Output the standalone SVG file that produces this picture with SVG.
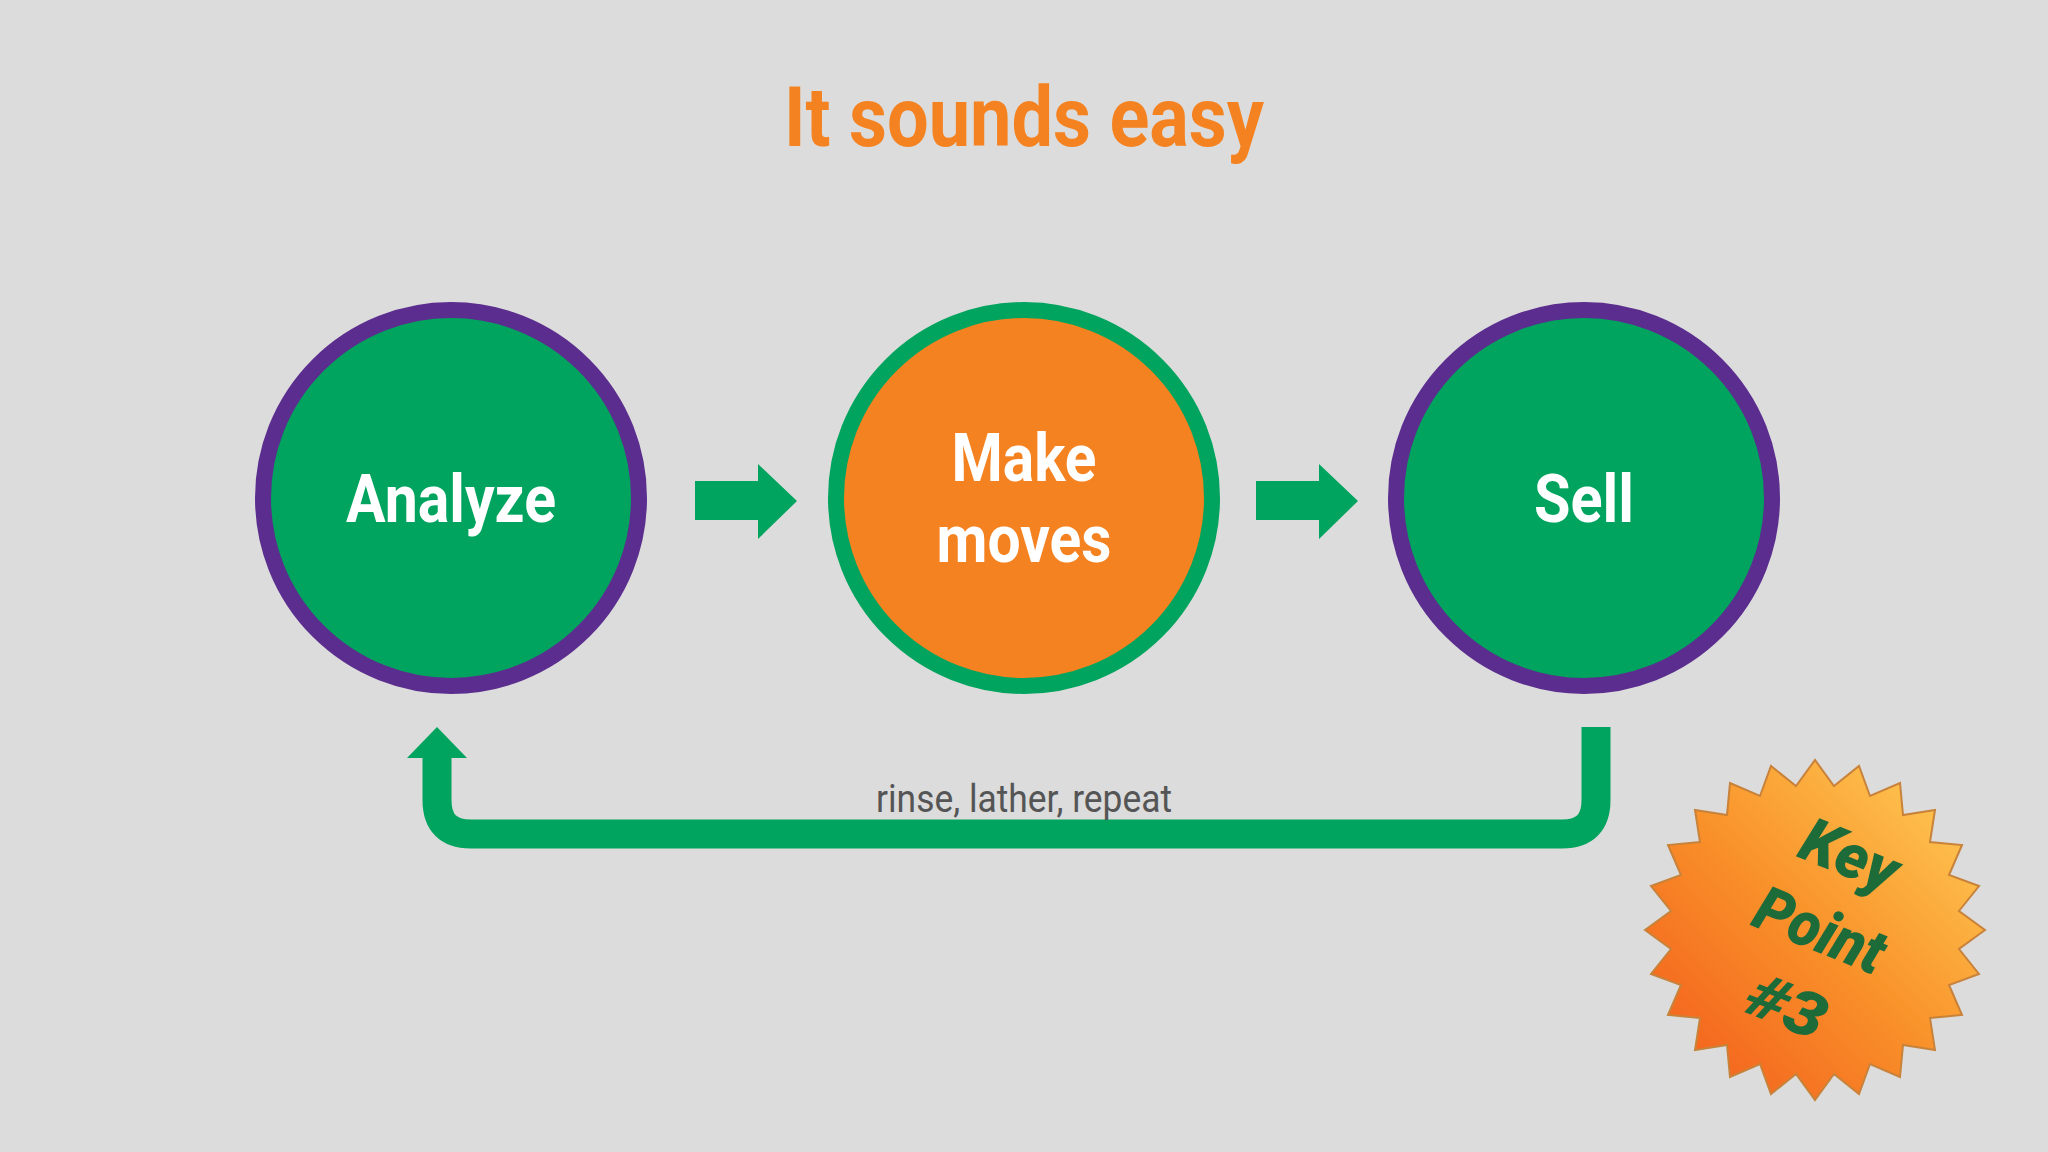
<svg xmlns="http://www.w3.org/2000/svg" width="2048" height="1152" viewBox="0 0 2048 1152">
<defs>
<style>
.ring{stroke-width:16}
.lbl{font-family:Roboto,"Liberation Sans",sans-serif;font-weight:bold;font-size:66px;fill:#fff;text-anchor:middle}
.arr{fill:#00a45e}
.badge{font-family:Roboto,"Liberation Sans",sans-serif;font-weight:900;font-style:italic;font-size:62px;fill:#1e6b3a;text-anchor:middle}
</style>
<linearGradient id="g" x1="1" y1="0" x2="0" y2="1">
<stop offset="0" stop-color="#ffd25a"/><stop offset="0.5" stop-color="#f9922a"/><stop offset="1" stop-color="#f2561a"/>
</linearGradient>
</defs>
<rect width="2048" height="1152" fill="#dcdcdc"/>
<text x="1024" y="146" font-family="Roboto,'Liberation Sans',sans-serif" font-weight="bold" font-size="84" fill="#f58220" text-anchor="middle" textLength="480" lengthAdjust="spacingAndGlyphs">It sounds easy</text>
<g id="analyze"><circle cx="451" cy="498" r="188" fill="#00a45e" stroke="#5b2d8e" class="ring"/><text x="451" y="522" class="lbl" textLength="210" lengthAdjust="spacingAndGlyphs">Analyze</text></g>
<g id="make"><circle cx="1024" cy="498" r="188" fill="#f58220" stroke="#00a45e" class="ring"/><text x="1024" y="481" class="lbl" textLength="145" lengthAdjust="spacingAndGlyphs">Make</text><text x="1024" y="562" class="lbl" textLength="175" lengthAdjust="spacingAndGlyphs">moves</text></g>
<g id="sell"><circle cx="1584" cy="498" r="188" fill="#00a45e" stroke="#5b2d8e" class="ring"/><text x="1584" y="522" class="lbl" textLength="100" lengthAdjust="spacingAndGlyphs">Sell</text></g>
<g id="connectors">
<polygon class="arr" points="695,481 758,481 758,464 797,501 758,539 758,520 695,520"/>
<polygon class="arr" points="1256,481 1319,481 1319,464 1358,501 1319,539 1319,520 1256,520"/>
<path d="M1596,727 V800 Q1596,834 1562,834 H471 Q437,834 437,800 V752" fill="none" stroke="#00a45e" stroke-width="29"/>
<polygon class="arr" points="407,758 437,727 467,758"/>
<text x="1024" y="812" font-family="Roboto,'Liberation Sans',sans-serif" font-size="38" fill="#555" text-anchor="middle" textLength="296" lengthAdjust="spacingAndGlyphs">rinse, lather, repeat</text>
</g>
<g id="badge">
<polygon transform="translate(1815,930)" fill="url(#g)" stroke="#c8823a" stroke-width="2" points="170,0 144,19 164,44 134,55 147,85 115,88 120,120 88,115 85,147 55,134 44,164 19,144 0,170 -19,144 -44,164 -55,134 -85,147 -88,115 -120,120 -115,88 -147,85 -134,55 -164,44 -144,19 -170,0 -144,-19 -164,-44 -134,-55 -147,-85 -115,-88 -120,-120 -88,-115 -85,-147 -55,-134 -44,-164 -19,-144 0,-170 19,-144 44,-164 55,-134 85,-147 88,-115 120,-120 115,-88 147,-85 134,-55 164,-44 144,-19"/>
<text transform="translate(1842,875) rotate(22)" class="badge" textLength="100" lengthAdjust="spacingAndGlyphs">Key</text>
<text transform="translate(1812,950) rotate(22)" class="badge" textLength="135" lengthAdjust="spacingAndGlyphs">Point</text>
<text transform="translate(1779,1026) rotate(22)" class="badge" textLength="80" lengthAdjust="spacingAndGlyphs">#3</text>
</g>
</svg>
